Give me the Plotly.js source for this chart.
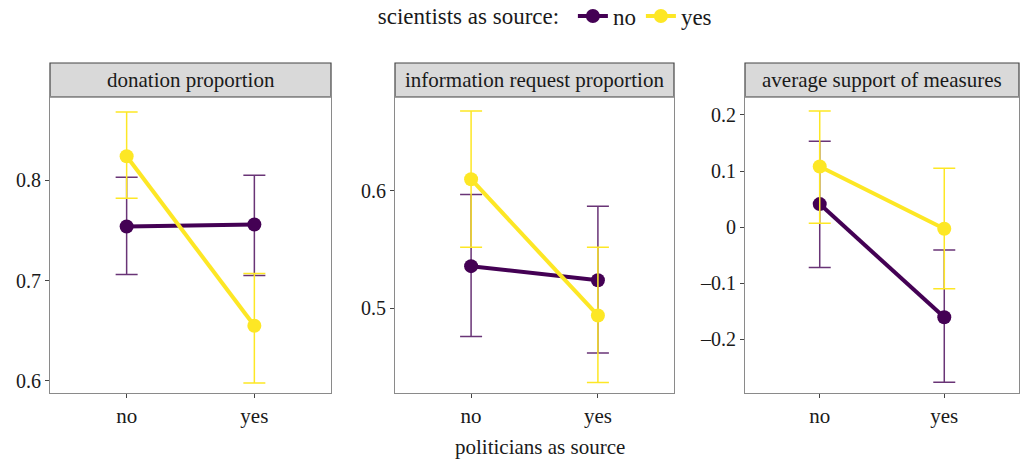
<!DOCTYPE html>
<html>
<head>
<meta charset="utf-8">
<script src="https://cdn.plot.ly/plotly-3.0.1.min.js"></script>
<style>html,body{margin:0;padding:0;background:#fff}#chart{width:1021px;height:460px}</style>
</head>
<body>
<div id="chart"></div>
<script>
const categories = ['no', 'yes'];
const panelTitles = ['donation proportion', 'information request proportion', 'average support of measures'];
const seriesNames = ['no', 'yes'];

// donation proportion
const donationNo = [0.754, 0.756];
const donationNoLo = [0.706, 0.705];
const donationNoHi = [0.803, 0.805];
const donationYes = [0.824, 0.655];
const donationYesLo = [0.782, 0.598];
const donationYesHi = [0.868, 0.707];

// information request proportion
const infoNo = [0.536, 0.524];
const infoNoLo = [0.476, 0.462];
const infoNoHi = [0.597, 0.587];
const infoYes = [0.610, 0.494];
const infoYesLo = [0.552, 0.437];
const infoYesHi = [0.668, 0.552];

// average support of measures
const supportNo = [0.041, -0.161];
const supportNoLo = [-0.072, -0.277];
const supportNoHi = [0.153, -0.041];
const supportYes = [0.108, -0.003];
const supportYesLo = [0.007, -0.110];
const supportYesHi = [0.207, 0.105];

const tickVals1 = [0.6, 0.7, 0.8];
const tickText1 = ['0.6', '0.7', '0.8'];
const tickVals2 = [0.5, 0.6];
const tickText2 = ['0.5', '0.6'];
const tickVals3 = [-0.2, -0.1, 0, 0.1, 0.2];
const tickText3 = ['\u20130.2', '\u20130.1', '0', '0.1', '0.2'];

const colNo = '#440154';
const colYes = '#FDE725';
const errNo = 'rgba(68,1,84,0.8)';
const errYes = '#FDE725';
const fontFam = '"Liberation Serif", "Times New Roman", serif';
const txtCol = '#1a1a1a';

const panels = [
  {no: [donationNo, donationNoLo, donationNoHi], yes: [donationYes, donationYesLo, donationYesHi]},
  {no: [infoNo, infoNoLo, infoNoHi], yes: [infoYes, infoYesLo, infoYesHi]},
  {no: [supportNo, supportNoLo, supportNoHi], yes: [supportYes, supportYesLo, supportYesHi]}
];

const traces = [];
panels.forEach((p, i) => {
  const xa = i === 0 ? 'x' : 'x' + (i + 1);
  const ya = i === 0 ? 'y' : 'y' + (i + 1);
  [['no', colNo, errNo], ['yes', colYes, errYes]].forEach(([k, c, ec]) => {
    const [v, lo, hi] = p[k];
    traces.push({
      type: 'scatter', mode: 'lines+markers',
      x: categories, y: v, xaxis: xa, yaxis: ya,
      name: k, legendgroup: k, showlegend: i === 0,
      line: {color: c, width: 4},
      marker: {color: c, size: 14},
      error_y: {
        type: 'data', symmetric: false,
        array: hi.map((h, j) => h - v[j]),
        arrayminus: lo.map((l, j) => v[j] - l),
        color: ec, thickness: 1.5, width: 11
      },
      hoverinfo: 'x+y'
    });
  });
});

const W = 1021, H = 460;
const px = [[50, 331], [395, 674], [745, 1019]];
const yTop = 97, yBot = 393, stripTop = 63;
const yDom = [(H - yBot) / H, (H - yTop) / H];
const stripY = [(H - yTop) / H, (H - stripTop) / H];

function xAxis(i) {
  return {
    domain: [px[i][0] / W, px[i][1] / W],
    type: 'category', range: [-0.6, 1.6],
    showgrid: false, zeroline: false,
    showline: true, mirror: true, linecolor: '#8a8a8a', linewidth: 1,
    ticks: 'outside', ticklen: 4, tickcolor: '#444', tickwidth: 1,
    tickfont: {family: fontFam, size: 21, color: txtCol},
    anchor: i === 0 ? 'y' : 'y' + (i + 1), fixedrange: true, automargin: false
  };
}
function yAxis(i, range, tv, tt) {
  return {
    domain: yDom, range: range,
    tickvals: tv, ticktext: tt,
    showgrid: false, zeroline: false,
    showline: true, mirror: true, linecolor: '#8a8a8a', linewidth: 1,
    ticks: 'outside', ticklen: 4, tickcolor: '#444', tickwidth: 1,
    tickfont: {family: fontFam, size: 20, color: txtCol},
    anchor: i === 0 ? 'x' : 'x' + (i + 1), fixedrange: true, automargin: false
  };
}

const shapes = px.map(([a, b]) => ({
  type: 'rect', xref: 'paper', yref: 'paper',
  x0: a / W, x1: b / W, y0: stripY[0], y1: stripY[1],
  fillcolor: '#d9d9d9', line: {color: '#444', width: 1.2}, layer: 'below'
}));

const annotations = px.map(([a, b], i) => ({
  xref: 'paper', yref: 'paper', x: (a + b) / 2 / W, y: (stripY[0] + stripY[1]) / 2,
  xanchor: 'center', yanchor: 'middle', showarrow: false,
  text: panelTitles[i], font: {family: fontFam, size: 21, color: txtCol}
}));
annotations.push({
  xref: 'paper', yref: 'paper', x: 540 / W, y: (H - 447) / H,
  xanchor: 'center', yanchor: 'middle', showarrow: false,
  text: 'politicians as source', font: {family: fontFam, size: 21, color: txtCol}
});

const layout = {
  width: W, height: H,
  margin: {l: 0, r: 0, t: 0, b: 0, autoexpand: false},
  paper_bgcolor: '#fff', plot_bgcolor: '#fff',
  font: {family: fontFam, color: txtCol},
  xaxis: xAxis(0), xaxis2: xAxis(1), xaxis3: xAxis(2),
  yaxis: yAxis(0, [0.588, 0.883], tickVals1, tickText1),
  yaxis2: yAxis(1, [0.428, 0.680], tickVals2, tickText2),
  yaxis3: yAxis(2, [-0.296, 0.232], tickVals3, tickText3),
  shapes: shapes, annotations: annotations,
  showlegend: true,
  legend: {
    orientation: 'h', x: 0.535, xanchor: 'center', y: 1.012, yanchor: 'top',
    title: {text: 'scientists as source: ', font: {family: fontFam, size: 23, color: txtCol}, side: 'left'},
    font: {family: fontFam, size: 23, color: txtCol},
    itemwidth: 30, tracegroupgap: 0, bgcolor: 'rgba(0,0,0,0)'
  }
};

Plotly.newPlot('chart', traces, layout, {displayModeBar: false, staticPlot: true});
</script>
</body>
</html>
